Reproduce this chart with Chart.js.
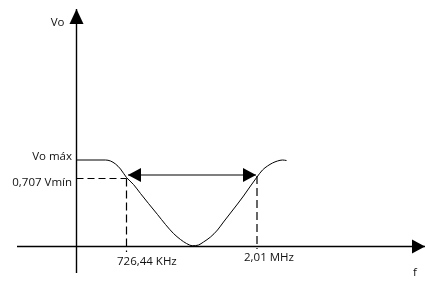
<!DOCTYPE html>
<html>
<head>
<meta charset="utf-8">
<script src="https://cdn.jsdelivr.net/npm/chart.js@4/dist/chart.umd.min.js"></script>
<style>
  html, body { margin: 0; padding: 0; background: #fff; }
  canvas { display: block; }
</style>
</head>
<body>
<canvas id="curva" width="430" height="298"></canvas>
<script>
// ── Données du croquis (unités arbitraires, origine = croisement des axes) ──
const curveX = [0, 2.9, 3.4, 3.9, 4.4, 5.0, 5.7, 6.4, 7.2, 8.1, 8.9, 9.7, 10.4, 11.0, 11.6,
                12.2, 12.7, 13.4, 14.1, 14.7, 15.4, 16.1, 16.7, 17.4, 18.05, 18.6, 19.1, 19.6, 20.1, 20.6, 21.0];
const curveY = [8.65, 8.65, 8.55, 8.25, 7.75, 6.9, 6.2, 5.3, 4.3, 3.2, 2.2, 1.3, 0.7, 0.3, 0.08,
                0.15, 0.45, 0.95, 1.65, 2.45, 3.35, 4.25, 5.05, 6.05, 6.95, 7.65, 8.05, 8.35, 8.55, 8.65, 8.6];

const freqPos = [5.0, 18.05];                 // 726,44 KHz · 2,01 MHz
const freqLabels = ['726,44 KHz', '2,01 MHz'];
const freqDashTop = [6.8, 7.05];
const freqDashBottom = [-0.55, -0.25];

const levelValues = [8.65, 6.8];              // Vo máx · 0,707 Vmín
const levelLabels = ['Vo máx', '0,707 Vmín'];

const bandArrowY = 7.15;
const bandArrowX = [5.15, 17.95];

const xAxisRange = [-5.95, 34.85];
const yAxisRange = [-2.65, 23.75];
const axisTitles = ['f', 'Vo'];

const X_MIN = -7.65, X_MAX = 35.35;
const Y_MIN = -5.15, Y_MAX = 24.65;

const pts = (xs, ys) => xs.map((x, i) => ({ x, y: ys[i] }));

// ── Pointes de flèche aux extrémités des segments ──
const arrowPlugin = {
  id: 'arrowHeads',
  afterDatasetsDraw(chart) {
    const ctx = chart.ctx;
    chart.data.datasets.forEach((ds, i) => {
      if (!ds.arrows) return;
      const el = chart.getDatasetMeta(i).data;
      ds.arrows.forEach(end => {
        const a = end === 'start' ? el[0] : el[el.length - 1];
        const b = end === 'start' ? el[1] : el[el.length - 2];
        const ang = Math.atan2(a.y - b.y, a.x - b.x);
        const L = ds.arrowLen, W = ds.arrowHalf;
        const bx = a.x - L * Math.cos(ang), by = a.y - L * Math.sin(ang);
        ctx.save();
        ctx.fillStyle = '#000';
        ctx.beginPath();
        ctx.moveTo(a.x, a.y);
        ctx.lineTo(bx + W * Math.sin(ang), by - W * Math.cos(ang));
        ctx.lineTo(bx - W * Math.sin(ang), by + W * Math.cos(ang));
        ctx.closePath();
        ctx.fill();
        ctx.restore();
      });
    });
  }
};

// ── Textes ──
const labelPlugin = {
  id: 'sketchLabels',
  afterDraw(chart) {
    const { ctx, scales: { x, y } } = chart;
    ctx.save();
    ctx.font = '11.5px "Open Sans", sans-serif';
    ctx.fillStyle = '#111';
    ctx.textBaseline = 'middle';

    ctx.textAlign = 'right';
    ctx.fillText(axisTitles[1], x.getPixelForValue(0) - 12, y.getPixelForValue(yAxisRange[1]) + 14);
    ctx.fillText(levelLabels[0], x.getPixelForValue(0) - 4.5, y.getPixelForValue(levelValues[0]) - 3);
    ctx.fillText(levelLabels[1], x.getPixelForValue(0) - 4.5, y.getPixelForValue(levelValues[1]) + 4);

    ctx.textAlign = 'left';
    ctx.fillText(freqLabels[0], x.getPixelForValue(freqPos[0]) - 9.5, y.getPixelForValue(0) + 15);
    ctx.fillText(freqLabels[1], x.getPixelForValue(freqPos[1]) - 13, y.getPixelForValue(0) + 11);

    ctx.textAlign = 'center';
    ctx.fillText(axisTitles[0], x.getPixelForValue(xAxisRange[1]) - 10, y.getPixelForValue(0) + 26.5);
    ctx.restore();
  }
};

const line = (data, extra) => Object.assign({
  data, showLine: true, borderColor: '#000', borderWidth: 1,
  pointRadius: 0, clip: false
}, extra);

new Chart(document.getElementById('curva'), {
  type: 'scatter',
  data: {
    datasets: [
      // axes
      line(pts(xAxisRange, [0, 0]), { borderWidth: 1.4, arrows: ['end'], arrowLen: 13, arrowHalf: 7 }),
      line(pts([0, 0], yAxisRange), { borderWidth: 1.4, arrows: ['end'], arrowLen: 15, arrowHalf: 7 }),
      // pointillés
      line(pts([0, freqPos[0]], [levelValues[1], levelValues[1]]), { borderWidth: 1.2, borderDash: [7, 4] }),
      line(pts([freqPos[0], freqPos[0]], [freqDashTop[0], freqDashBottom[0]]), { borderWidth: 1.2, borderDash: [8, 4] }),
      line(pts([freqPos[1], freqPos[1]], [freqDashTop[1], freqDashBottom[1]]), { borderWidth: 1.2, borderDash: [8, 4] }),
      // bande passante
      line(pts(bandArrowX, [bandArrowY, bandArrowY]), { borderWidth: 1.2, arrows: ['start', 'end'], arrowLen: 13, arrowHalf: 7 }),
      // réponse
      line(pts(curveX, curveY), { borderWidth: 1, cubicInterpolationMode: 'monotone' })
    ]
  },
  options: {
    responsive: false,
    animation: false,
    layout: { padding: 0 },
    plugins: { legend: { display: false }, tooltip: { enabled: false } },
    scales: {
      x: { type: 'linear', min: X_MIN, max: X_MAX, display: false },
      y: { type: 'linear', min: Y_MIN, max: Y_MAX, display: false }
    }
  },
  plugins: [arrowPlugin, labelPlugin]
});
</script>
</body>
</html>
